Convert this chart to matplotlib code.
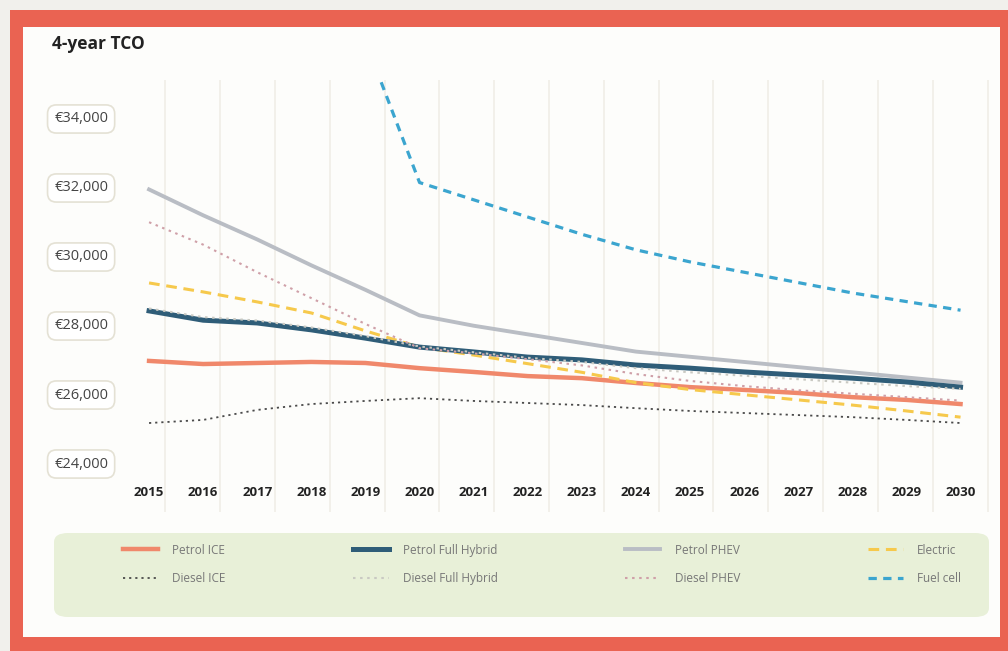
import numpy as np
import matplotlib
matplotlib.use("Agg")
import matplotlib.pyplot as plt
from matplotlib.patches import Rectangle, FancyBboxPatch

plt.rcParams["font.family"] = ["Open Sans", "DejaVu Sans"]

W, H = 1008, 651

years = list(range(2015, 2031))
nan = np.nan

petrol_ice = [26930, 26840, 26870, 26900, 26870, 26720, 26610, 26490,
              26430, 26290, 26170, 26090, 26000, 25880, 25800, 25680]
petrol_fh = [28380, 28110, 28030, 27830, 27590, 27330, 27190, 27040,
             26960, 26810, 26720, 26610, 26520, 26430, 26320, 26170]
petrol_phev = [31900, 31150, 30450, 29700, 28990, 28250, 27950, 27700,
               27450, 27200, 27050, 26900, 26750, 26600, 26450, 26300]
electric = [29190, 28930, 28640, 28320, 27800, 27330, 27100, 26850,
            26600, 26300, 26100, 25950, 25800, 25650, 25480, 25300]
diesel_ice = [25130, 25220, 25510, 25680, 25770, 25850, 25770, 25710,
              25650, 25560, 25480, 25420, 25360, 25300, 25220, 25130]
diesel_fh = [28450, 28200, 28100, 27900, 27650, 27350, 27180, 27020,
             26900, 26720, 26600, 26500, 26400, 26300, 26200, 26120]
diesel_phev = [30950, 30300, 29500, 28750, 28000, 27300, 27150, 26980,
               26800, 26550, 26350, 26200, 26080, 25980, 25880, 25780]
fuel_cell = [nan, nan, nan, nan, 36200, 32100, 31600, 31100,
             30600, 30150, 29800, 29500, 29200, 28900, 28650, 28400]

y_ticks = [24000, 26000, 28000, 30000, 32000, 34000]
y_labels = ["€24,000", "€26,000", "€28,000", "€30,000", "€32,000", "€34,000"]


def fx(px):
    return px / W


def fy(py):
    return 1 - py / H


fig = plt.figure(figsize=(W / 100, H / 100), dpi=100)
fig.patch.set_facecolor("#f1f0ec")

# red frame and white card
fig.patches.append(Rectangle((fx(10), fy(660)), fx(1010) - fx(10), fy(10) - fy(660),
                             transform=fig.transFigure, fc="#ea6352", ec="none", zorder=-3))
fig.patches.append(Rectangle((fx(23), fy(637)), fx(1000) - fx(23), fy(27) - fy(637),
                             transform=fig.transFigure, fc="#fdfdfb", ec="none", zorder=-2))
# legend panel
fig.patches.append(FancyBboxPatch((fx(54), fy(617)), fx(989) - fx(54), fy(533) - fy(617),
                                  boxstyle="round,pad=0,rounding_size=0.014",
                                  transform=fig.transFigure, fc="#e8f0d8", ec="none", zorder=-1))

fig.text(fx(52), fy(44), "4-year TCO", fontsize=12.5, fontweight="bold",
         color="#222222", va="center", ha="left")

ax = fig.add_axes([fx(122), fy(512), fx(993) - fx(122), fy(80) - fy(512)])
ax.set_facecolor("none")
for s in ax.spines.values():
    s.set_visible(False)

ax.plot(years, diesel_ice, color="#4a4a4a", lw=1.3, ls=(0, (1.2, 2.2)), label="Diesel ICE", zorder=3)
ax.plot(years, petrol_ice, color="#f0886b", lw=3.2, label="Petrol ICE", zorder=4)
ax.plot(years, electric, color="#f6c94c", lw=2.2, ls=(0, (3.5, 2.2)), label="Electric", zorder=5)
ax.plot(years, diesel_phev, color="#cfa0a8", lw=1.5, ls=(0, (1.2, 2.2)), label="Diesel PHEV", zorder=6)
ax.plot(years, petrol_phev, color="#b9bdc4", lw=2.8, label="Petrol PHEV", zorder=4)
ax.plot(years, petrol_fh, color="#2f5d78", lw=3.6, label="Petrol Full Hybrid", zorder=5)
ax.plot(years, diesel_fh, color="#c9c9c2", lw=1.5, ls=(0, (1.2, 2.2)), label="Diesel Full Hybrid", zorder=6)
ax.plot(years, fuel_cell, color="#3ba5cf", lw=2.3, ls=(0, (2.6, 2.0)), label="Fuel cell", zorder=5)

ax.set_xlim(2014.5, 2030.6)
ax.set_ylim(22551, 35072)

ax.set_xticks(years)
ax.set_xticklabels([str(y) for y in years], fontsize=9.5, fontweight="bold", color="#222222")
ax.set_xticks(np.linspace(2015.3, 2030.5, 16), minor=True)
ax.grid(which="minor", axis="x", color="#efede5", lw=1.1, zorder=0)
ax.grid(which="major", visible=False)
ax.tick_params(axis="x", which="both", length=0, pad=-19)

ax.set_yticks(y_ticks)
ax.set_yticklabels(y_labels, fontsize=10.5, color="#444444")
ax.tick_params(axis="y", length=0, pad=10)
for lab in ax.get_yticklabels():
    lab.set_bbox(dict(boxstyle="round,pad=0.45,rounding_size=0.6", fc="#ffffff",
                      ec="#e4e1d4", lw=1.2))

handles, labels = ax.get_legend_handles_labels()
order = ["Petrol ICE", "Diesel ICE", "Petrol Full Hybrid", "Diesel Full Hybrid",
         "Petrol PHEV", "Diesel PHEV", "Electric", "Fuel cell"]
hmap = dict(zip(labels, handles))
leg = fig.legend([hmap[k] for k in order], order, loc="upper left",
                 bbox_to_anchor=(fx(112), fy(533)), ncol=4, frameon=False,
                 fontsize=8.5, handlelength=3.0, handletextpad=1.2,
                 columnspacing=10.8, labelspacing=1.3, labelcolor="#777777")

fig.savefig("out.png", dpi=100, facecolor=fig.get_facecolor())
